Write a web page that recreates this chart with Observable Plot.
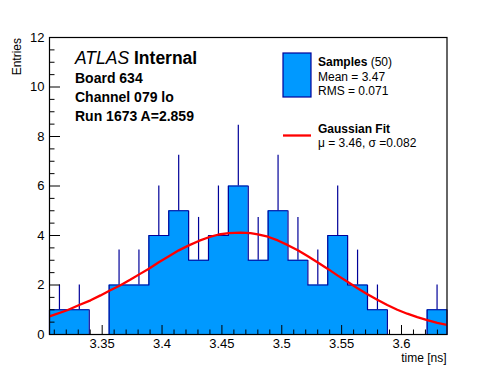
<!DOCTYPE html>
<html>
<head>
<meta charset="utf-8">
<script src="https://cdn.jsdelivr.net/npm/d3@7"></script>
<script src="https://cdn.jsdelivr.net/npm/@observablehq/plot@0.6"></script>
<style>
  html, body { margin: 0; padding: 0; background: white; }
  #chart { width: 496px; height: 372px; }
</style>
</head>
<body>
<div id="chart"></div>
<script>
// ---- data ----
const binEdges = [3.306, 3.3226, 3.3392, 3.3558, 3.3724, 3.389, 3.4056, 3.4222, 3.4388, 3.4554,
                  3.472, 3.4886, 3.5052, 3.5218, 3.5384, 3.555, 3.5716, 3.5882, 3.6048, 3.6214, 3.638];
const binCounts = [1, 1, 0, 2, 2, 4, 5, 3, 4, 6, 3, 5, 3, 2, 4, 2, 1, 0, 0, 1];
const errorTops = [2, 2, 0, 3.41, 3.41, 6, 7.24, 4.73, 6, 8.45, 4.73, 7.24, 4.73, 3.41, 6, 3.41, 2, 0, 0, 2];

const fitX = [3.306, 3.3208, 3.3313, 3.3403, 3.3486, 3.3564, 3.3653, 3.3737, 3.382, 3.389,
              3.3973, 3.4057, 3.414, 3.4224, 3.4307, 3.4391, 3.4474, 3.4558, 3.4656, 3.4739,
              3.48, 3.4884, 3.4967, 3.5051, 3.5134, 3.5218, 3.5301, 3.5385, 3.5468, 3.5552,
              3.5636, 3.5719, 3.5798, 3.5881, 3.5965, 3.6048, 3.6132, 3.6215, 3.6299, 3.638];
const fitY = [0.73, 0.98, 1.2, 1.38, 1.58, 1.78, 1.99, 2.22, 2.46, 2.66,
              2.92, 3.16, 3.4, 3.6, 3.78, 3.93, 4.04, 4.1, 4.12, 4.1,
              4.05, 3.95, 3.8, 3.61, 3.4, 3.16, 2.91, 2.65, 2.38, 2.12,
              1.86, 1.62, 1.4, 1.19, 1.0, 0.84, 0.7, 0.58, 0.47, 0.39];

const xMajorTicks = [3.35, 3.4, 3.45, 3.5, 3.55, 3.6];
const xMinorTicks = [3.31, 3.32, 3.33, 3.34, 3.36, 3.37, 3.38, 3.39, 3.41, 3.42, 3.43, 3.44,
                     3.46, 3.47, 3.48, 3.49, 3.51, 3.52, 3.53, 3.54, 3.56, 3.57, 3.58, 3.59,
                     3.61, 3.62, 3.63];
const yMajorTicks = [0, 2, 4, 6, 8, 10, 12];
const yMinorTicks = [0.5, 1, 1.5, 2.5, 3, 3.5, 4.5, 5, 5.5, 6.5, 7, 7.5, 8.5, 9, 9.5, 10.5, 11, 11.5];

const xDomain = [3.306, 3.638];
const yDomain = [0, 12];

// ---- derived tables ----
const bins = binCounts.map((c, i) => ({x1: binEdges[i], x2: binEdges[i + 1], c, e: errorTops[i]}));
const stepPts = [{x: binEdges[0], y: 0}, ...bins.map(b => ({x: b.x1, y: b.c})), {x: binEdges[binEdges.length - 1], y: 0}];
const fitPts = fitX.map((x, i) => ({x, y: fitY[i]}));

const W = 496, H = 372, mL = 49, mR = 49.5, mT = 37, mB = 38;
const plotW = W - mL - mR, plotH = H - mT - mB;
const FILL = "#0099ff", NAVY = "#000099", FONT = "'Liberation Sans', Arial, Helvetica, sans-serif";

const svg = Plot.plot({
  width: W, height: H,
  marginLeft: mL, marginRight: mR, marginTop: mT, marginBottom: mB,
  style: {fontFamily: FONT, fontSize: "13px", background: "white", color: "black", overflow: "visible"},
  x: {domain: xDomain},
  y: {domain: yDomain},
  marks: [
    Plot.areaY(stepPts, {x: "x", y: "y", curve: "step-after", fill: FILL}),
    Plot.line(stepPts, {x: "x", y: "y", curve: "step-after", stroke: NAVY, strokeWidth: 1.2}),
    Plot.ruleX(bins.filter(b => b.c > 0), {x: b => (b.x1 + b.x2) / 2, y1: "c", y2: "e", stroke: NAVY, strokeWidth: 1.2}),
    Plot.line(fitPts, {x: "x", y: "y", stroke: "#ff0000", strokeWidth: 2.3, clip: true}),
    Plot.tickX(xMajorTicks, {x: d => d, insetTop: plotH - 9, stroke: "black"}),
    Plot.tickX(xMinorTicks, {x: d => d, insetTop: plotH - 4.5, stroke: "black"}),
    Plot.tickY(yMajorTicks, {y: d => d, insetRight: plotW - 11, stroke: "black"}),
    Plot.tickY(yMinorTicks, {y: d => d, insetRight: plotW - 5.5, stroke: "black"}),
    Plot.axisX({ticks: xMajorTicks, tickSize: 0, tickPadding: 4, tickFormat: d => String(d), label: null, fontSize: 13}),
    Plot.axisY({ticks: yMajorTicks, tickSize: 0, tickPadding: 5, tickFormat: d => String(d), label: null, fontSize: 13}),
    Plot.frame({stroke: "black", strokeWidth: 1.2})
  ]
});

document.getElementById("chart").appendChild(svg);

// ---- annotations (titles, labels, legend) ----
const s = d3.select(svg);
function txt(x, y, size, weight, style, parts, anchor = "start", rotate = 0) {
  const t = s.append("text")
    .attr("x", x).attr("y", y)
    .attr("font-family", FONT).attr("font-size", size)
    .attr("text-anchor", anchor).attr("fill", "black");
  if (rotate) t.attr("transform", `rotate(${rotate},${x},${y})`);
  parts.forEach(p => {
    t.append("tspan").text(p.t)
      .attr("font-weight", p.w || weight)
      .attr("font-style", p.s || style);
  });
  return t;
}

// axis titles
txt(W - mR, 362, 12, "normal", "normal", [{t: "time [ns]"}], "end");
txt(21, mT + 1, 12, "normal", "normal", [{t: "Entries"}], "end", -90);

// ATLAS block
txt(75, 64, 17.5, "normal", "normal", [{t: "ATLAS", s: "italic"}, {t: " Internal", w: "bold"}]);
txt(75, 83, 14, "bold", "normal", [{t: "Board 634"}]);
txt(75, 102, 14, "bold", "normal", [{t: "Channel 079 lo"}]);
txt(75, 121, 14, "bold", "normal", [{t: "Run 1673 A=2.859"}]);

// legend
s.append("rect").attr("x", 283).attr("y", 53).attr("width", 28).attr("height", 44)
  .attr("fill", FILL).attr("stroke", NAVY).attr("stroke-width", 1.2);
txt(318, 66, 12, "normal", "normal", [{t: "Samples", w: "bold"}, {t: " (50)"}]);
txt(318, 81, 12, "normal", "normal", [{t: "Mean = 3.47"}]);
txt(318, 95, 12, "normal", "normal", [{t: "RMS = 0.071"}]);

s.append("line").attr("x1", 283).attr("x2", 311).attr("y1", 135.5).attr("y2", 135.5)
  .attr("stroke", "#ff0000").attr("stroke-width", 2.3);
txt(318, 133, 12, "bold", "normal", [{t: "Gaussian Fit"}]);
txt(318, 147, 12, "normal", "normal", [{t: "\u03BC = 3.46, \u03C3 =0.082"}]);
</script>
</body>
</html>
